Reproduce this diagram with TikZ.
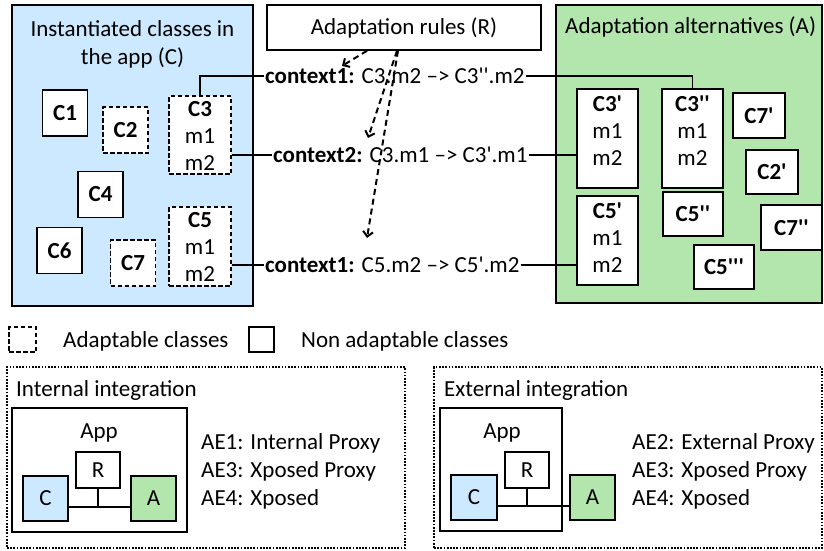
\documentclass[tikz,border=0pt]{standalone}
\usepackage{fontspec}
\setmainfont{Carlito}[Ligatures=TeXOff]
\usetikzlibrary{arrows.meta,positioning,calc}
\definecolor{AppBlue}{HTML}{CCE9FF}
\definecolor{AltGreen}{HTML}{B3E6AC}

\begin{document}
\begin{tikzpicture}[x=1pt, y=-1pt,
    every node/.style={font=\fontsize{23}{28}\selectfont},
    area/.style={draw, line width=1.5pt, inner sep=0pt},
    cls/.style={draw, fill=white, line width=1.9pt, inner sep=0pt, minimum width=45pt, minimum height=46pt, font=\fontsize{23}{27}\selectfont\bfseries},
    adp/.style={cls, dash pattern=on 4.5pt off 2.5pt},
    meth/.style={align=center, inner sep=0pt, font=\fontsize{23}{27}\selectfont},
    rule/.style={anchor=west, inner xsep=1pt, inner ysep=0pt},
    wire/.style={line width=1.5pt},
    pick/.style={line width=2pt, dash pattern=on 6pt off 4pt, -{Straight Barb[length=5pt,width=10pt]}},
    panel/.style={draw, line width=1.7pt, dash pattern=on 1.7pt off 1.5pt, inner sep=0pt},
    small/.style={draw, line width=1.5pt, inner sep=0pt, minimum width=45pt, minimum height=45pt},
    plain/.style={anchor=west, inner sep=0pt}
  ]
    \useasboundingbox (0,0) rectangle (824,551);

    % the app, the rules, the alternatives
    \node[area, fill=AppBlue, minimum width=241pt, minimum height=301pt] (app) at (132.5,155.5) {};
    \node[align=center, inner sep=0pt] (apptitle) at (132.5,44) {Instantiated classes in\\the app (C)};
    \node[area, fill=AltGreen, minimum width=266pt, minimum height=298pt] (alt) at (689,154) {};
    \node[plain] (alttitle) at (565,27) {Adaptation alternatives (A)};
    \node[area, fill=white, minimum width=274pt, minimum height=45pt] (rules) at (404,27.5) {Adaptation rules (R)};

    \node[cls] (c1) at (65,113) {C1};
    \node[adp] (c2) at (125.5,130) {C2};
    \node[adp, minimum width=62pt, minimum height=78pt] (c3) at (200,135) {};
    \node[meth, anchor=north] (c3text) at ($(c3.north)+(0,6)$) {\textbf{C3}\\m1\\m2};
    \node[cls] (c4) at (100.5,194.5) {C4};
    \node[adp, minimum width=62pt, minimum height=79pt] (c5) at (200,246.5) {};
    \node[meth, anchor=north] (c5text) at ($(c5.north)+(0,6)$) {\textbf{C5}\\m1\\m2};
    \node[cls] (c6) at (59.5,250.5) {C6};
    \node[adp] (c7) at (133,263) {C7};

    \node[cls, minimum width=61pt, minimum height=99pt] (c3a) at (607.5,138.5) {};
    \node[meth, anchor=north] (c3atext) at ($(c3a.north)+(0,8)$) {\textbf{C3'}\\m1\\m2};
    \node[cls, minimum width=61pt, minimum height=99pt] (c3b) at (692.5,138.5) {};
    \node[meth, anchor=north] (c3btext) at ($(c3b.north)+(0,8)$) {\textbf{C3''}\\m1\\m2};
    \node[cls, minimum width=52pt, minimum height=45pt] (c7a) at (759,115.5) {C7'};
    \node[cls, minimum width=52pt, minimum height=44pt] (c2a) at (772,172) {C2'};
    \node[cls, minimum width=61pt, minimum height=89pt] (c5a) at (607.5,240.5) {};
    \node[meth, anchor=north] (c5atext) at ($(c5a.north)+(0,8)$) {\textbf{C5'}\\m1\\m2};
    \node[cls, minimum width=60pt, minimum height=44pt] (c5b) at (693,214) {C5''};
    \node[cls, minimum width=61pt, minimum height=45pt] (c7b) at (791.5,227.5) {C7''};
    \node[cls, minimum width=60pt, minimum height=44pt] (c5c) at (724,267) {C5'''};

    \node[rule] (rule1) at (264,76) {\textbf{context1:} C3.m2 –> C3''.m2};
    \node[rule] (rule2) at (272,155) {\textbf{context2:} C3.m1 –> C3'.m1};
    \node[rule] (rule3) at (264,265) {\textbf{context1:} C5.m2 –> C5'.m2};

    \draw[wire] (c3.north) |- (rule1.west);
    \draw[wire] (rule1.east) -| (c3b.north);
    \draw[wire] (rule2.west -| c3.east) -- (rule2.west);
    \draw[wire] (rule2.east) -- (rule2.east -| c3a.west);
    \draw[wire] (rule3.west -| c5.east) -- (rule3.west);
    \draw[wire] (rule3.east) -- (rule3.east -| c5a.west);

    \draw[pick] ($(rules.south)+(-37,0)$) -- ($(rule1.north west)+(78,-2)$);
    \draw[pick] ($(rules.south)+(-7,0)$) -- ($(rule2.north west)+(96,-9)$);
    \draw[pick] ($(rules.south)+(-6,0)$) -- ($(rule3.north west)+(103,-19)$);

    % legend
    \node[adp, minimum width=27pt, minimum height=25pt] (keyadp) at (22.5,339.5) {};
    \node[plain] (keyadptext) at (63,341) {Adaptable classes};
    \node[cls, minimum width=25pt, minimum height=25pt, line width=1.5pt] (keycls) at (261.5,339.5) {};
    \node[plain] (keyclstext) at (301,341) {Non adaptable classes};

    % internal integration
    \node[panel, minimum width=398pt, minimum height=181pt] (intpanel) at (206,457.5) {};
    \node[plain] (inttitle) at (16,390) {Internal integration};
    \node[small, minimum width=175pt, minimum height=124pt] (intapp) at (99.5,470) {};
    \node[inner sep=0pt] (intapptext) at (99,433) {App};
    \node[small, minimum width=44pt, minimum height=36pt] (intr) at (98,470) {R};
    \node[small, fill=AppBlue] (intc) at (45.5,498.5) {C};
    \node[small, fill=AltGreen] (inta) at (153.5,498.5) {A};
    \draw[wire] ($(intc.east)+(0,8.5)$) -- ($(inta.west)+(0,8.5)$);
    \draw[wire] (intr.south) -- ($(intr.south |- intc.east)+(0,8.5)$);
    \node[plain, align=left] (intlist) at (201,471) {AE1: Internal Proxy\\AE3: Xposed Proxy\\AE4: Xposed};

    % external integration
    \node[panel, minimum width=388pt, minimum height=181pt] (extpanel) at (628,457.5) {};
    \node[plain] (exttitle) at (444,390) {External integration};
    \node[small, minimum width=122pt, minimum height=123pt] (extapp) at (501,469.5) {};
    \node[inner sep=0pt] (extapptext) at (502,433) {App};
    \node[small, minimum width=44pt, minimum height=36pt] (extr) at (527,470) {R};
    \node[small, fill=AppBlue, minimum width=46pt] (extc) at (474,497.5) {C};
    \node[small, fill=AltGreen] (exta) at (592.5,497.5) {A};
    \draw[wire] ($(extc.east)+(0,8.5)$) -- ($(exta.west)+(0,8.5)$);
    \draw[wire] (extr.south) -- ($(extr.south |- extc.east)+(0,8.5)$);
    \node[plain, align=left] (extlist) at (632,471) {AE2: External Proxy\\AE3: Xposed Proxy\\AE4: Xposed};
\end{tikzpicture}
\end{document}
